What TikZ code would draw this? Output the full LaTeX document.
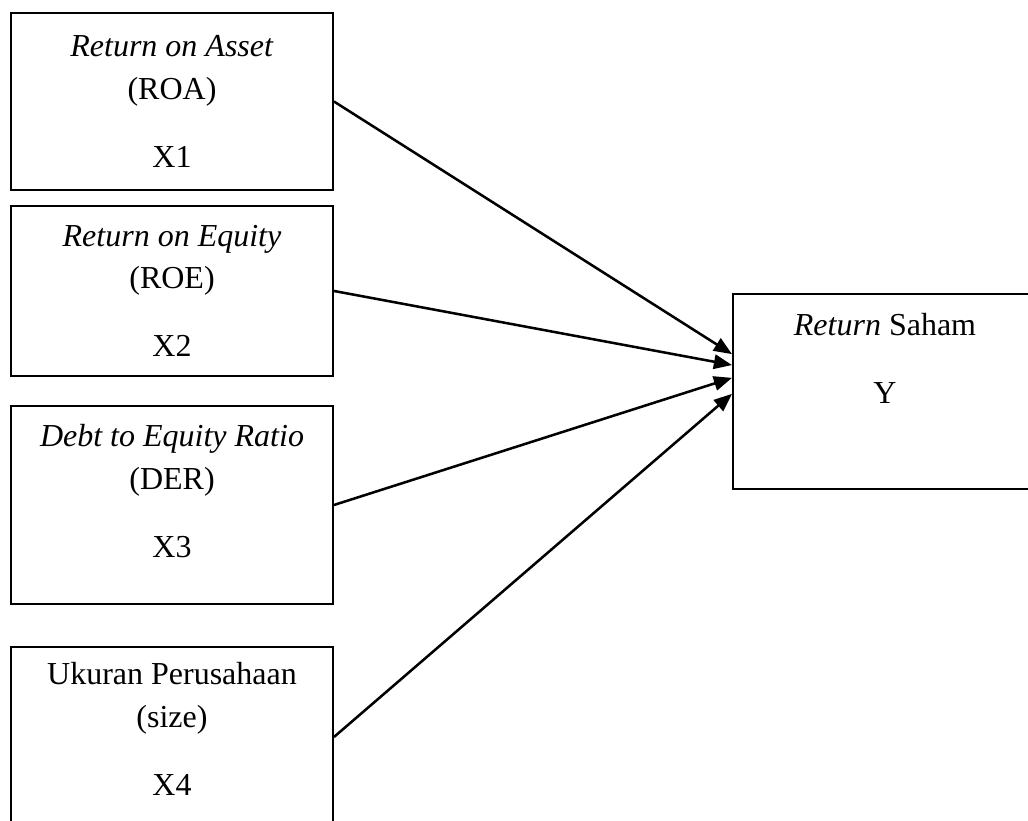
\documentclass[tikz,border=0pt]{standalone}
\usepackage{fontspec}
\setmainfont{Liberation Serif}
\usetikzlibrary{arrows.meta}
\begin{document}
\begin{tikzpicture}[x=0.375pt,y=-0.375pt,
  var/.style={draw, line width=0.75pt, anchor=north west, align=center,
    font=\fontsize{12}{16}\selectfont, minimum width=120.75pt},
  arr/.style={line width=0.95pt, -{Triangle[length=6.8pt,width=5.4pt]}}]
\useasboundingbox (0,0) rectangle (1028,821);

\node[var, minimum height=66.4pt] (x1) at (10,12) {\textit{Return on Asset}\\(ROA)\\[9.5pt]X1};
\node[var, minimum height=63.75pt] (x2) at (10,205) {\textit{Return on Equity}\\(ROE)\\[9.5pt]X2};
\node[var, minimum height=74.25pt, text depth=10.5pt] (x3) at (10,405) {\textit{Debt to Equity Ratio}\\(DER)\\[9.5pt]X3};
\node[var, minimum height=67.5pt, text depth=6pt] (x4) at (10,646) {Ukuran Perusahaan\\(size)\\[9.5pt]X4};
\node[var, minimum width=114pt, minimum height=73.1pt, text depth=24.75pt] (y) at (732,293) {\textit{Return} Saham\\[9.5pt]Y};

\path[draw,arr] (x1.east) -- ([yshift=14pt]y.west);
\path[draw,arr] (x2.east) -- ([yshift=9.9pt]y.west);
\path[draw,arr] (x3.east) -- ([yshift=5.1pt]y.west);
\path[draw,arr] (x4.east) -- ([yshift=-0.9pt]y.west);
\end{tikzpicture}
\end{document}
